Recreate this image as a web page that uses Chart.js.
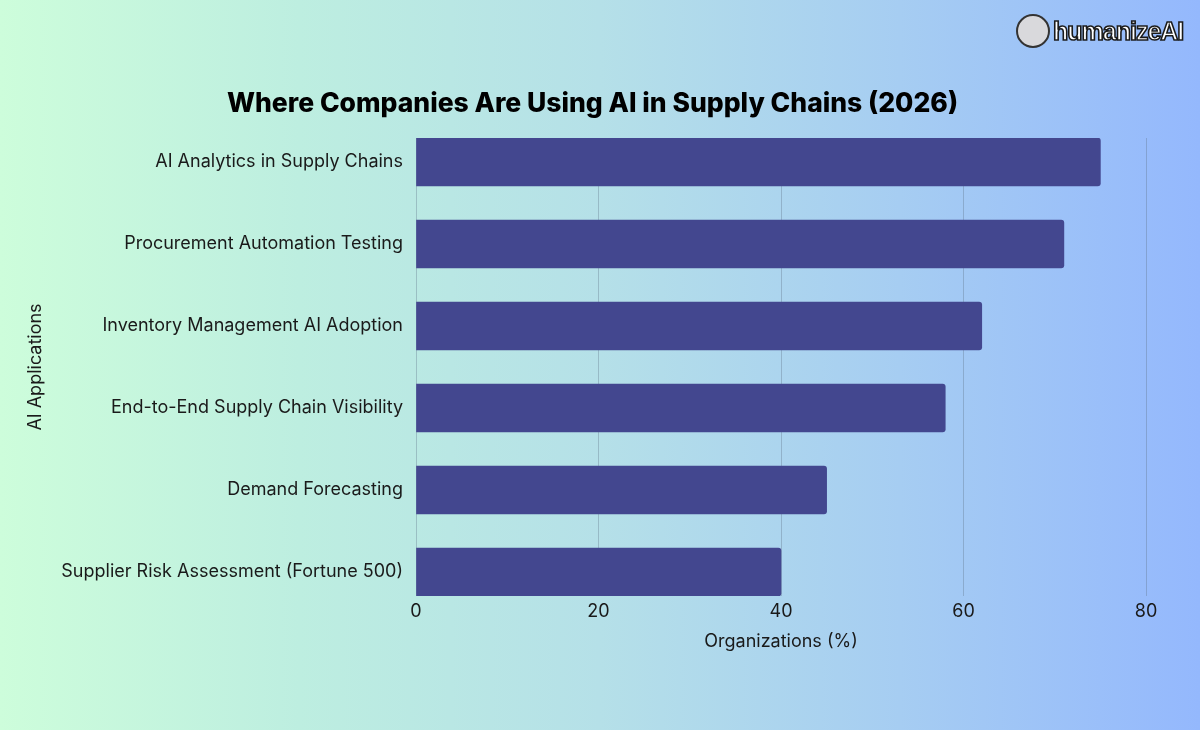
<!DOCTYPE html>
<html lang="en">
<head>
    <meta charset="UTF-8">
    <title>Where Companies Are Using AI in Supply Chains (2026)</title>
    <script src="https://cdn.jsdelivr.net/npm/chart.js"></script>
    <style>
        html, body { margin: 0; padding: 0; }
        body {
            width: 1200px;
            height: 730px;
            overflow: hidden;
            background: linear-gradient(90deg, #cdfddb 0%, #bdeee0 25%, #b5e0e8 50%, #a6cdf2 75%, #94b8fd 100%);
            font-family: 'Inter', sans-serif;
        }
        .wrap { position: relative; width: 1200px; height: 730px; }
        canvas { position: absolute; left: 0; top: 0; }
        h1 {
            position: absolute; left: 0; width: 1185px; top: 86px; margin: 0;
            text-align: center;
            font-family: 'Inter', sans-serif; font-weight: 800; font-size: 26.5px;
            line-height: 32px; color: #000;
        }
        .logo {
            position: absolute; left: 1016px; top: 14px;
            display: flex; align-items: center;
        }
        .logo .badge {
            width: 34px; height: 34px; border-radius: 50%;
            background: #d9d9dc; border: 2px solid #333;
            box-sizing: border-box;
        }
        .logo .name {
            margin-left: 3px;
            font-family: 'Liberation Sans', Arial, sans-serif;
            font-weight: 700; font-size: 25px; letter-spacing: -1px;
            color: #fff; -webkit-text-stroke: 1.6px #1a1a1a;
        }
    </style>
</head>
<body>
<div class="wrap">
    <canvas id="chart" width="1200" height="730"></canvas>
    <h1>Where Companies Are Using AI in Supply Chains (2026)</h1>
    <div class="logo"><div class="badge"></div><div class="name">humanizeAI</div></div>
</div>
<script>
    // data
    const categories = [
        'AI Analytics in Supply Chains',
        'Procurement Automation Testing',
        'Inventory Management AI Adoption',
        'End-to-End Supply Chain Visibility',
        'Demand Forecasting',
        'Supplier Risk Assessment (Fortune 500)'
    ];
    const organizations = [75, 71, 62, 58, 45, 40];
    const xTicks = [0, 20, 40, 60, 80];

    const labelFont = { family: 'Inter', size: 18 };

    new Chart(document.getElementById('chart'), {
        type: 'bar',
        data: {
            datasets: [{
                data: organizations.map((v, i) => ({ x: v, y: i })),
                backgroundColor: '#43478f',
                borderRadius: { topRight: 3, bottomRight: 3 },
                borderSkipped: 'start',
                barThickness: 48
            }]
        },
        options: {
            indexAxis: 'y',
            responsive: false,
            animation: false,
            layout: { padding: { top: 138, right: 54, bottom: 0, left: 0 } },
            plugins: {
                legend: { display: false },
                tooltip: { enabled: false }
            },
            scales: {
                x: {
                    type: 'linear',
                    min: 0,
                    max: 80,
                    afterBuildTicks: s => { s.ticks = xTicks.map(v => ({ value: v })); },
                    afterFit: s => { s.height = 134; },
                    grid: { color: 'rgba(95,115,135,0.35)', lineWidth: 1, drawTicks: false },
                    border: { display: false },
                    ticks: { color: '#1a1a1a', font: labelFont, padding: 5 },
                    title: {
                        display: true,
                        text: 'Organizations (%)',
                        color: '#1a1a1a',
                        font: labelFont,
                        padding: { top: 8, bottom: 78 }
                    }
                },
                y: {
                    type: 'linear',
                    reverse: true,
                    offset: false,
                    bounds: 'data',
                    min: -0.293,
                    max: categories.length - 1 + 0.293,
                    afterBuildTicks: s => { s.ticks = categories.map((c, i) => ({ value: i })); },
                    afterFit: s => { s.width = 416; },
                    grid: { display: false, offset: false },
                    border: { display: false },
                    ticks: {
                        color: '#1a1a1a',
                        font: labelFont,
                        padding: 5,
                        callback: v => categories[v] ?? ''
                    },
                    title: {
                        display: true,
                        text: 'AI Applications',
                        color: '#1a1a1a',
                        font: labelFont,
                        padding: { top: 25, bottom: 0 }
                    }
                }
            }
        }
    });
</script>
</body>
</html>
